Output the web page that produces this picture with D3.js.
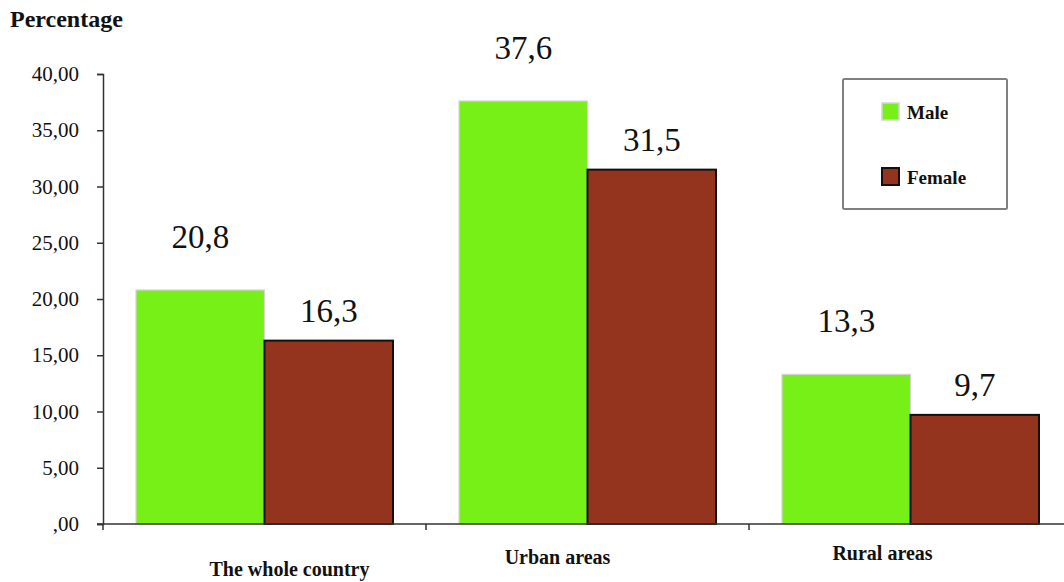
<!DOCTYPE html>
<html>
<head>
<meta charset="utf-8">
<script src="https://cdn.jsdelivr.net/npm/d3@7"></script>
<style>
  html, body { margin: 0; padding: 0; background: #fff; }
  svg { display: block; }
  svg text { font-family: "Liberation Serif", "DejaVu Serif", serif !important; fill: #111; }
</style>
</head>
<body>
<svg id="chart" width="1064" height="582"></svg>
<script>
// Share by area and sex (percent)
const categories = ["The whole country", "Urban areas", "Rural areas"];
const seriesNames = ["Male", "Female"];
const maleValues = [20.8, 37.6, 13.3];
const femaleValues = [16.3, 31.5, 9.7];
const valueLabels = [["20,8", "37,6", "13,3"], ["16,3", "31,5", "9,7"]];
const yTicks = [0, 5, 10, 15, 20, 25, 30, 35, 40];

const colors = { Male: "#76F016", Female: "#94331E" };
const strokes = { Male: "#d4d4d4", Female: "#111" };
const strokeW = { Male: 1.2, Female: 2 };
const labelGap = { Male: 42, Female: 19 };
// category caption placement (x nudge, baseline)
const captionLayout = [{ dx: 25, y: 576 }, { dx: -30, y: 564 }, { dx: -28, y: 560 }];

const svg = d3.select("#chart");
const plot = { left: 103, right: 1072, top: 74, bottom: 524 };

const x0 = d3.scaleBand().domain(categories).range([plot.left, plot.right]).padding(0);
const x1 = d3.scaleBand().domain(seriesNames).range([33, x0.bandwidth() - 33]).padding(0);
const y = d3.scaleLinear().domain([0, 40]).range([plot.bottom, plot.top]);

const fmt = v => v === 0 ? ",00" : d3.format(".2f")(v).replace(".", ",");

// Y axis
const yAxis = svg.append("g")
  .attr("transform", `translate(${plot.left},0)`)
  .call(d3.axisLeft(y).tickValues(yTicks).tickSize(6).tickPadding(18).tickFormat(fmt));
yAxis.attr("font-family", null);
yAxis.select(".domain").attr("stroke", "#333").attr("stroke-width", 1.5);
yAxis.selectAll(".tick line").attr("stroke", "#333").attr("stroke-width", 1.5);
yAxis.selectAll(".tick text").attr("font-size", 21).attr("fill", "#111");

// Bars
const data = categories.map((c, i) => ({
  cat: c,
  vals: [
    { s: "Male", v: maleValues[i], label: valueLabels[0][i] },
    { s: "Female", v: femaleValues[i], label: valueLabels[1][i] }
  ]
}));

const groups = svg.append("g").selectAll("g").data(data).join("g")
  .attr("transform", d => `translate(${x0(d.cat)},0)`);

groups.selectAll("rect").data(d => d.vals).join("rect")
  .attr("x", d => x1(d.s))
  .attr("y", d => y(d.v))
  .attr("width", x1.bandwidth())
  .attr("height", d => y(0) - y(d.v))
  .attr("fill", d => colors[d.s])
  .attr("stroke", d => strokes[d.s])
  .attr("stroke-width", d => strokeW[d.s]);

groups.selectAll("text.val").data(d => d.vals).join("text")
  .attr("class", "val")
  .attr("x", d => x1(d.s) + x1.bandwidth() / 2)
  .attr("y", d => y(d.v) - labelGap[d.s])
  .attr("text-anchor", "middle")
  .attr("font-size", 33)
  .text(d => d.label);

// X axis
const xAxis = svg.append("g")
  .attr("transform", `translate(0,${plot.bottom})`);
xAxis.append("line")
  .attr("x1", plot.left - 6).attr("x2", 1064)
  .attr("stroke", "#333").attr("stroke-width", 1.5);
xAxis.selectAll("line.tk").data(categories).join("line")
  .attr("class", "tk")
  .attr("x1", d => x0(d)).attr("x2", d => x0(d))
  .attr("y1", 0).attr("y2", 6)
  .attr("stroke", "#333").attr("stroke-width", 1.5);

svg.append("g").selectAll("text").data(categories).join("text")
  .attr("x", (d, i) => x0(d) + x0.bandwidth() / 2 + captionLayout[i].dx)
  .attr("y", (d, i) => captionLayout[i].y)
  .attr("text-anchor", "middle")
  .attr("font-size", 20)
  .attr("font-weight", "bold")
  .text(d => d);

// Y title
svg.append("text")
  .attr("x", 10).attr("y", 27)
  .attr("font-size", 24)
  .attr("font-weight", "bold")
  .text("Percentage");

// Legend
const legend = svg.append("g").attr("transform", "translate(843,79)");
legend.append("rect")
  .attr("width", 164).attr("height", 130)
  .attr("rx", 1.5)
  .attr("fill", "#fff").attr("stroke", "#808080").attr("stroke-width", 2);
const items = legend.selectAll("g.item").data(seriesNames).join("g")
  .attr("class", "item")
  .attr("transform", (d, i) => `translate(39,${24 + i * 65})`);
items.append("rect")
  .attr("width", 17).attr("height", 17)
  .attr("fill", d => colors[d])
  .attr("stroke", d => d === "Male" ? "#d4d4d4" : "#111")
  .attr("stroke-width", d => d === "Male" ? 1.5 : 2);
items.append("text")
  .attr("x", 25).attr("y", 16)
  .attr("font-size", 19)
  .attr("font-weight", "bold")
  .text(d => d);
</script>
</body>
</html>
